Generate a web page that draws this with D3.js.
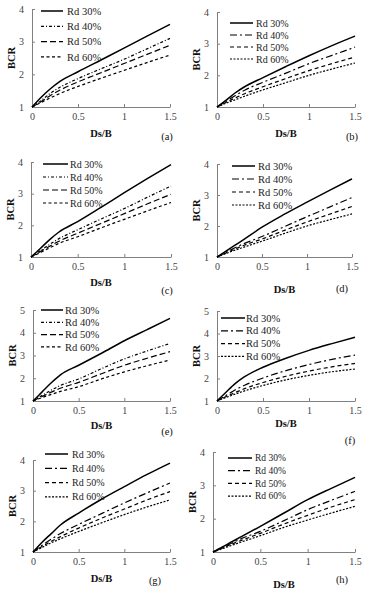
<!DOCTYPE html>
<html>
<head>
<meta charset="utf-8">
<script src="https://cdn.jsdelivr.net/npm/d3@7"></script>
<style>
body { margin: 0; background: #fff; }
svg { display: block; }
svg text { font-family: "Liberation Serif", "Tinos", "DejaVu Serif", serif; }
</style>
</head>
<body>
<svg id="chart" width="374" height="595"></svg>
<script>

// x values shared by every curve
var dsB = [0, 0.1, 0.2, 0.3, 0.5, 0.75, 1, 1.25, 1.5];
var seriesNames = ["Rd 30%", "Rd 40%", "Rd 50%", "Rd 60%"];
var panelTags = ["(a)", "(b)", "(c)", "(d)", "(e)", "(f)", "(g)", "(h)"];
var yMaxes = [4, 4, 4, 4, 5, 5, 4, 4];
var xTicks = [0, 0.5, 1, 1.5];

// BCR values, one row per Rd series
var bcrA = [[1, 1.3, 1.56, 1.78, 2.08, 2.44, 2.8, 3.17, 3.53],
            [1, 1.2, 1.42, 1.6, 1.87, 2.17, 2.46, 2.78, 3.1],
            [1, 1.17, 1.35, 1.51, 1.77, 2.05, 2.33, 2.61, 2.89],
            [1, 1.14, 1.28, 1.41, 1.63, 1.88, 2.12, 2.36, 2.59]];
var bcrB = [[1, 1.22, 1.45, 1.64, 1.93, 2.28, 2.62, 2.94, 3.24],
            [1, 1.18, 1.36, 1.53, 1.78, 2.07, 2.37, 2.63, 2.89],
            [1, 1.15, 1.29, 1.42, 1.64, 1.9, 2.15, 2.37, 2.58],
            [1, 1.12, 1.23, 1.34, 1.54, 1.77, 2.0, 2.2, 2.39]];
var bcrC = [[1, 1.27, 1.55, 1.79, 2.12, 2.57, 3.03, 3.48, 3.92],
            [1, 1.2, 1.4, 1.58, 1.86, 2.2, 2.53, 2.89, 3.24],
            [1, 1.17, 1.34, 1.5, 1.75, 2.06, 2.37, 2.68, 2.98],
            [1, 1.14, 1.29, 1.43, 1.64, 1.92, 2.19, 2.46, 2.72]];
var bcrD = [[1, 1.19, 1.38, 1.57, 1.96, 2.38, 2.77, 3.15, 3.52],
            [1, 1.15, 1.3, 1.43, 1.66, 1.98, 2.3, 2.61, 2.92],
            [1, 1.13, 1.26, 1.38, 1.58, 1.86, 2.13, 2.38, 2.63],
            [1, 1.11, 1.22, 1.32, 1.51, 1.76, 2.0, 2.2, 2.39]];
var bcrE = [[1, 1.4, 1.8, 2.15, 2.57, 3.1, 3.65, 4.14, 4.63],
            [1, 1.25, 1.48, 1.68, 1.97, 2.42, 2.85, 3.2, 3.53],
            [1, 1.2, 1.39, 1.56, 1.82, 2.2, 2.57, 2.88, 3.17],
            [1, 1.15, 1.29, 1.42, 1.63, 1.97, 2.28, 2.55, 2.8]];
var bcrF = [[1, 1.4, 1.78, 2.08, 2.5, 2.9, 3.25, 3.55, 3.83],
            [1, 1.25, 1.5, 1.7, 2.02, 2.35, 2.62, 2.85, 3.04],
            [1, 1.2, 1.38, 1.55, 1.82, 2.1, 2.33, 2.52, 2.67],
            [1, 1.16, 1.31, 1.45, 1.69, 1.94, 2.14, 2.3, 2.42]];
var bcrG = [[1, 1.32, 1.6, 1.88, 2.27, 2.72, 3.13, 3.53, 3.9],
            [1, 1.22, 1.42, 1.6, 1.9, 2.25, 2.6, 2.93, 3.25],
            [1, 1.18, 1.35, 1.5, 1.78, 2.1, 2.4, 2.7, 2.97],
            [1, 1.15, 1.3, 1.43, 1.67, 1.95, 2.22, 2.47, 2.7]];
var bcrH = [[1, 1.15, 1.31, 1.46, 1.77, 2.17, 2.57, 2.91, 3.24],
            [1, 1.13, 1.27, 1.4, 1.62, 1.94, 2.27, 2.55, 2.82],
            [1, 1.12, 1.24, 1.35, 1.56, 1.84, 2.1, 2.35, 2.57],
            [1, 1.1, 1.2, 1.3, 1.49, 1.74, 1.96, 2.17, 2.37]];
var panelValues = [bcrA, bcrB, bcrC, bcrD, bcrE, bcrF, bcrG, bcrH];

// panel boxes and legend placement (pixels)
var layout = [
    {l: 32, r: 170, t: 9, b: 107, titleDy: 26, tagX: 167, tagY: 137, lx1: 41, lx2: 63, tx: 67, ly: 11, ldy: 15.3, lf: 10.5, dash: 0},
    {l: 217, r: 355, t: 12, b: 107, titleDy: 26, tagX: 352, tagY: 137, lx1: 230, lx2: 253, tx: 256, ly: 23, ldy: 12, lf: 10, dash: 1},
    {l: 31, r: 171, t: 162, b: 257, titleDy: 25, tagX: 167, tagY: 291, lx1: 43, lx2: 68, tx: 70, ly: 164, ldy: 13, lf: 10, dash: 0},
    {l: 217, r: 352, t: 164, b: 257, titleDy: 32, tagX: 342, tagY: 289, lx1: 232, lx2: 255, tx: 258, ly: 166, ldy: 13, lf: 10.5, dash: 1},
    {l: 33, r: 170, t: 310, b: 401, titleDy: 24, tagX: 167, tagY: 432, lx1: 41, lx2: 63, tx: 65, ly: 310, ldy: 12.3, lf: 10.5, dash: 0},
    {l: 217, r: 355, t: 311, b: 401, titleDy: 22, tagX: 350, tagY: 441, lx1: 221, lx2: 245, tx: 246, ly: 318, ldy: 12.8, lf: 10.5, dash: 1},
    {l: 33, r: 170, t: 460, b: 552, titleDy: 26, tagX: 155, tagY: 581, lx1: 45, lx2: 68, tx: 72, ly: 454, ldy: 14.3, lf: 10, dash: 1},
    {l: 213, r: 355, t: 452, b: 552, titleDy: 32, tagX: 342, tagY: 580, lx1: 228, lx2: 252, tx: 255, ly: 458, ldy: 12.7, lf: 9.5, dash: 1}
];

var dashSets = [
    [null, "3,2,1,2", "6,3", "3,2.5"],
    [null, "7,3,2,3", "4,3", "2,1.5"]
];
var widths = [1.5, 1.2, 1.2, 1.2];

var svg = d3.select("#chart");

for (var p = 0; p < 8; p++) {
    draw_panel(layout[p], panelValues[p], yMaxes[p], panelTags[p]);
}

function draw_panel(box, values, yMax, tag) {
    var g = svg.append("g");
    var x = d3.scaleLinear().domain([0, 1.5]).range([box.l, box.r]);
    var y = d3.scaleLinear().domain([1, yMax]).range([box.b, box.t]);

    var xAxis = d3.axisBottom(x).tickValues(xTicks)
                    .tickSizeInner(-3).tickSizeOuter(0).tickPadding(6)
                    .tickFormat(function(d) { return String(d); });
    var yAxis = d3.axisLeft(y).tickValues(d3.range(1, yMax + 1))
                    .tickSizeInner(-3).tickSizeOuter(0).tickPadding(8)
                    .tickFormat(d3.format("d"));

    var gx = g.append("g").attr("transform", "translate(0," + box.b + ")").call(xAxis);
    var gy = g.append("g").attr("transform", "translate(" + box.l + ",0)").call(yAxis);
    [gx, gy].forEach(function(a) {
        a.attr("font-family", null);
        a.selectAll("path, line").attr("stroke", "#808080").attr("stroke-width", 1);
        a.selectAll("text").attr("fill", "#444").style("font-size", "10px");
    });

    // axis titles
    g.append("text")
        .attr("x", (box.l + box.r) / 2)
        .attr("y", box.b + box.titleDy + 4)
        .attr("text-anchor", "middle")
        .style("font-size", "10.5px").style("font-weight", "bold")
        .attr("fill", "#111")
        .text("Ds/B");
    g.append("text")
        .attr("transform", "translate(" + (box.l - 17) + "," + ((box.t + box.b) / 2) + ") rotate(-90)")
        .attr("text-anchor", "middle")
        .style("font-size", "10.5px").style("font-weight", "bold")
        .attr("fill", "#111")
        .text("BCR");
    g.append("text")
        .attr("x", box.tagX).attr("y", box.tagY + 3)
        .attr("text-anchor", "middle")
        .style("font-size", "10.5px")
        .attr("fill", "#111")
        .text(tag);

    var line = d3.line()
                .x(function(d, i) { return x(dsB[i]); })
                .y(function(d) { return y(d); })
                .curve(d3.curveMonotoneX);

    var dashes = dashSets[box.dash];
    values.forEach(function(v, k) {
        g.append("path")
            .attr("d", line(v))
            .attr("fill", "none")
            .attr("stroke", "#000")
            .attr("stroke-width", widths[k])
            .attr("stroke-dasharray", dashes[k]);

        // legend entry
        var ly = box.ly + k * box.ldy;
        g.append("line")
            .attr("x1", box.lx1).attr("x2", box.lx2)
            .attr("y1", ly).attr("y2", ly)
            .attr("stroke", "#000")
            .attr("stroke-width", widths[k])
            .attr("stroke-dasharray", dashes[k]);
        g.append("text")
            .attr("x", box.tx).attr("y", ly)
            .attr("dy", "0.35em")
            .style("font-size", box.lf + "px")
            .attr("fill", "#222")
            .text(seriesNames[k]);
    });
}

</script>
</body>
</html>
